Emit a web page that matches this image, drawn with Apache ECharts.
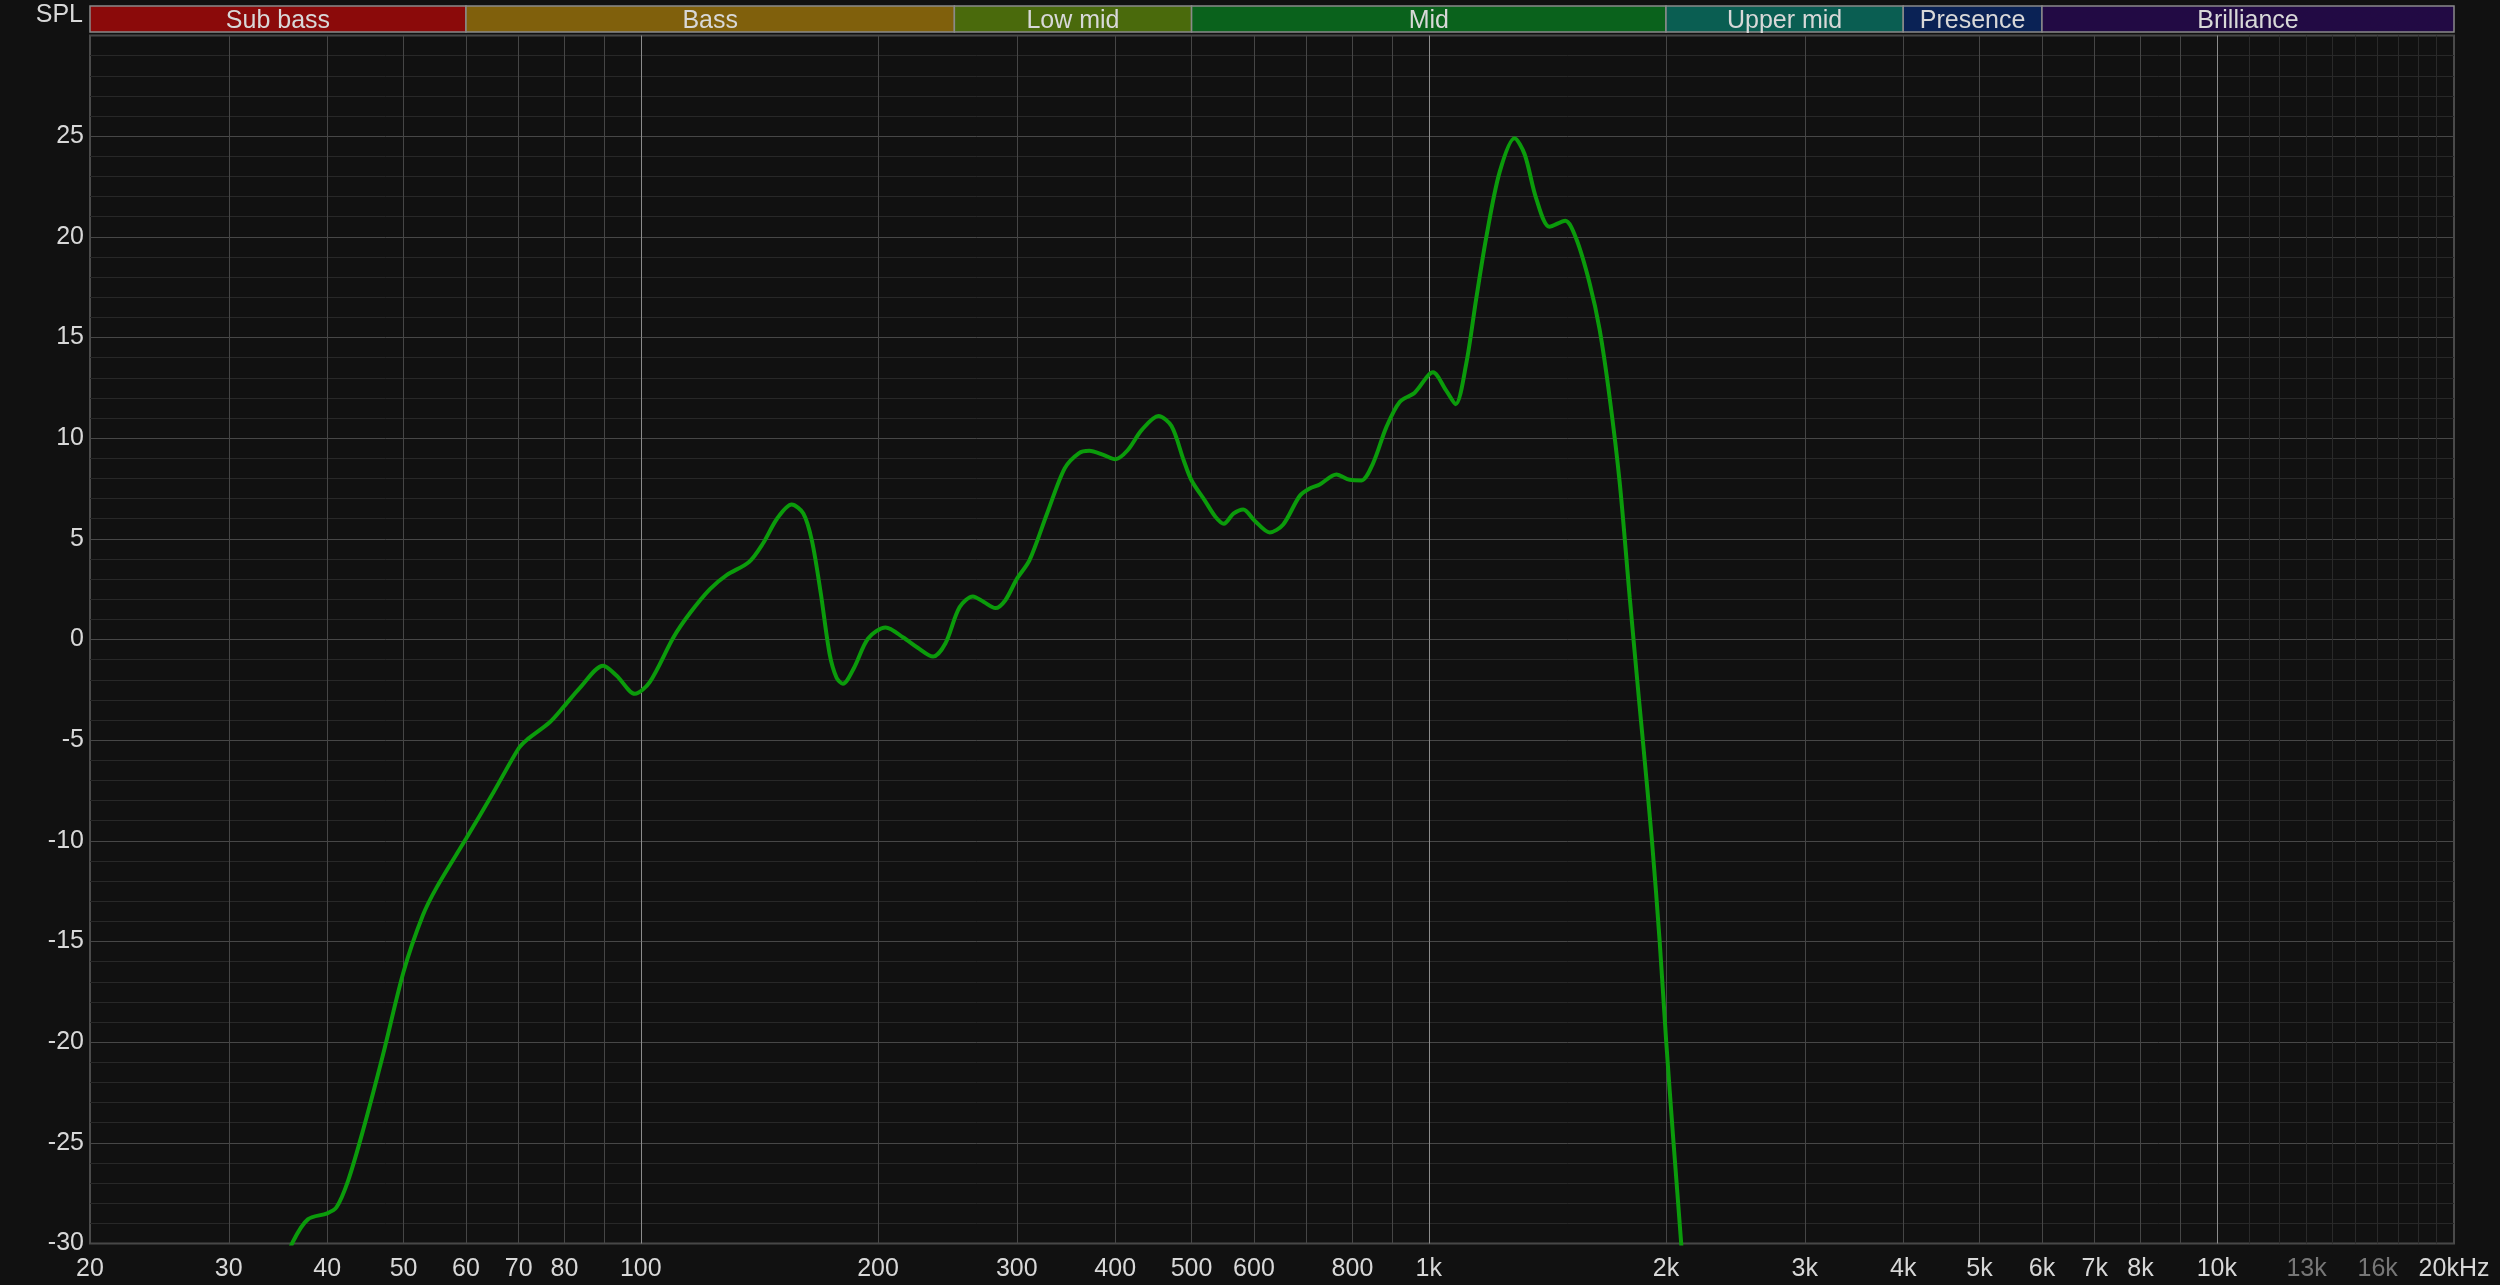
<!DOCTYPE html>
<html><head><meta charset="utf-8">
<script src="https://cdn.jsdelivr.net/npm/echarts@6/dist/echarts.min.js"></script>
<style>html,body{margin:0;padding:0;background:#111111;} #c{width:2500px;height:1285px;}</style>
</head><body><div id="c"></div>
<script>
// ---- data ----
const freqs = [35.2, 36.2, 37.8, 40, 41.1, 42.5, 44.4, 47.1, 50, 52.9, 55.1, 60, 65, 70, 71.6, 76.7, 80, 83.7, 89.6, 93.2, 98.3, 102.7, 110, 115.4, 122.4, 128.5, 137.2, 142.9, 148.9, 155.4, 160.8, 164.9, 169.2, 173.6, 177.2, 180.5, 186.5, 194.3, 204.5, 215.3, 224.4, 234.9, 243.5, 253.8, 263.9, 272.5, 281.9, 290, 300, 311.4, 327.8, 345.1, 359.6, 370.8, 386.4, 400.1, 414.8, 432.1, 453.9, 471.5, 488.6, 500, 519.8, 536, 549.5, 565, 581.5, 601.2, 628.2, 653.1, 685.7, 706.1, 727.1, 763.4, 793.7, 821.2, 849.7, 883.4, 918.5, 959.6, 1012.3, 1052.4, 1081.4, 1115.5, 1148.6, 1182.7, 1229.7, 1285, 1323.2, 1368.9, 1423.2, 1490, 1538.7, 1599.8, 1647.3, 1696.6, 1746.9, 1798.8, 1848.4, 1869, 1919.6, 1963.4, 2001.4, 2044.6, 2090.8, 2135];
const splValues = [-31.2, -29.9, -28.8, -28.5, -28.2, -26.9, -24.4, -20.6, -16.5, -13.7, -12.3, -9.9, -7.6, -5.4, -5.0, -4.1, -3.3, -2.4, -1.3, -1.8, -2.7, -2.1, 0.1, 1.3, 2.5, 3.2, 3.85, 4.77, 6.0, 6.7, 6.26, 4.9, 2.3, -0.7, -1.9, -2.2, -1.4, 0.05, 0.6, 0.1, -0.4, -0.85, -0.2, 1.6, 2.14, 1.86, 1.56, 1.94, 3.0, 3.94, 6.26, 8.5, 9.25, 9.37, 9.17, 8.95, 9.4, 10.4, 11.1, 10.6, 8.9, 7.9, 6.9, 6.1, 5.75, 6.25, 6.46, 5.9, 5.32, 5.7, 7.13, 7.5, 7.7, 8.2, 7.93, 7.9, 8.75, 10.55, 11.8, 12.26, 13.27, 12.36, 11.69, 13.69, 16.92, 19.96, 23.2, 24.9, 24.1, 21.9, 20.5, 20.8, 19.9, 17.7, 15.4, 12.0, 7.8, 2.1, -3.0, -5, -10, -15, -20, -25, -30, -35];

const bandNames = ['Sub bass', 'Bass', 'Low mid', 'Mid', 'Upper mid', 'Presence', 'Brilliance'];
const bandEdges = [20, 60, 250, 500, 2000, 4000, 6000, 20000];
const bandColors = ['#8b0a0a', '#80600c', '#4a6a0c', '#0a621c', '#0a5e52', '#0a2255', '#220a44'];

const xTickValues = [20, 30, 40, 50, 60, 70, 80, 100, 200, 300, 400, 500, 600, 800, 1000, 2000, 3000, 4000, 5000, 6000, 7000, 8000, 10000, 13000, 16000, 20000];
const xTickLabels = ['20', '30', '40', '50', '60', '70', '80', '100', '200', '300', '400', '500', '600', '800', '1k', '2k', '3k', '4k', '5k', '6k', '7k', '8k', '10k', '13k', '16k', '20kHz'];
const dimLabels = ['13k', '16k'];

const gridFreqs = [30, 40, 50, 60, 70, 80, 90, 200, 300, 400, 500, 600, 700, 800, 900, 2000, 3000, 4000, 5000, 6000, 7000, 8000, 9000];
const decadeFreqs = [100, 1000, 10000];
const fineFreqs = [11000, 12000, 13000, 14000, 15000, 16000, 17000, 18000, 19000];
const edgeFreqs = [20, 20000];

const yMin = -30, yMax = 30, yStep = 5;

// ---- styles ----
const FONT = "'Liberation Sans', Arial, sans-serif";
const TXT = '#d8d8d8';
const FS = 25;

const lineSets = [
  {list: edgeFreqs, color: 'rgba(0,0,0,0)'},
  {list: gridFreqs, color: '#464646'},
  {list: fineFreqs, color: '#2a2a2a'},
  {list: decadeFreqs, color: '#8c8c8c'}
];
const markData = [];
lineSets.forEach(set => {
  set.list.forEach(f => {
    const li = xTickValues.indexOf(f);
    const label = li >= 0 ? {
      show: true, position: 'start', distance: 13, formatter: xTickLabels[li],
      color: dimLabels.indexOf(xTickLabels[li]) >= 0 ? '#777777' : TXT,
      fontSize: FS, fontFamily: FONT
    } : {show: false};
    markData.push([
      {coord: [f, yMin], lineStyle: {color: set.color, width: 1, type: 'solid'}, label: label},
      {coord: [f, yMax]}
    ]);
  });
});

const chart = echarts.init(document.getElementById('c'), null, {renderer: 'canvas'});
chart.setOption({
  backgroundColor: '#111111',
  animation: false,
  textStyle: {fontFamily: FONT},
  grid: [
    {left: 90, right: 46, top: 35.5, height: 1208, show: true, borderColor: '#4a4a4a', borderWidth: 2, backgroundColor: 'transparent'},
    {left: 90, right: 46, top: 6, height: 26}
  ],
  xAxis: [
    {type: 'log', logBase: 10, min: 20, max: 20000, gridIndex: 0,
     axisLine: {show: false}, axisTick: {show: false}, axisLabel: {show: false}, splitLine: {show: false}},
    {type: 'log', logBase: 10, min: 20, max: 20000, gridIndex: 1, show: false}
  ],
  yAxis: [
    {type: 'value', min: yMin, max: yMax, interval: yStep, gridIndex: 0,
     name: 'SPL', nameLocation: 'end', nameGap: 20,
     nameTextStyle: {color: TXT, fontSize: FS, fontFamily: FONT, align: 'right', verticalAlign: 'middle', padding: [0, 7, 0, 0]},
     axisLine: {show: false}, axisTick: {show: false},
     axisLabel: {color: TXT, fontSize: FS, fontFamily: FONT, margin: 6, showMaxLabel: false, showMinLabel: true},
     splitLine: {show: true, lineStyle: {color: '#474747', width: 1}},
     minorTick: {show: false, splitNumber: 5},
     minorSplitLine: {show: true, lineStyle: {color: '#282828', width: 1}}},
    {type: 'value', min: 0, max: 1, gridIndex: 1, show: false}
  ],
  series: [
    {
      type: 'line', xAxisIndex: 0, yAxisIndex: 0, data: [], z: 1, silent: true,
      markLine: {silent: true, symbol: ['none', 'none'], animation: false, precision: 6, data: markData,
                 emphasis: {disabled: true}}
    },
    {
      type: 'line', xAxisIndex: 0, yAxisIndex: 0, z: 5, silent: true,
      data: freqs.map((f, i) => [f, splValues[i]]),
      smooth: 0.3, showSymbol: false, clip: true,
      lineStyle: {color: '#0b9b0b', width: 4},
      itemStyle: {color: '#0b9b0b'}
    },
    {
      type: 'custom', xAxisIndex: 1, yAxisIndex: 1, silent: true,
      data: bandNames.map((n, i) => [bandEdges[i], bandEdges[i + 1], i]),
      encode: {x: [0, 1]},
      renderItem: function (params, api) {
        const i = api.value(2);
        const p0 = api.coord([api.value(0), 1]);
        const p1 = api.coord([api.value(1), 0]);
        return {
          type: 'rect',
          shape: {x: p0[0], y: p0[1], width: p1[0] - p0[0], height: p1[1] - p0[1]},
          style: {fill: bandColors[i], stroke: '#8a8a8a', lineWidth: 1.5},
          textContent: {style: {text: bandNames[i], fill: TXT, fontSize: FS, fontFamily: FONT}},
          textConfig: {position: 'inside', offset: [0, 2]}
        };
      }
    }
  ]
});
</script></body></html>
